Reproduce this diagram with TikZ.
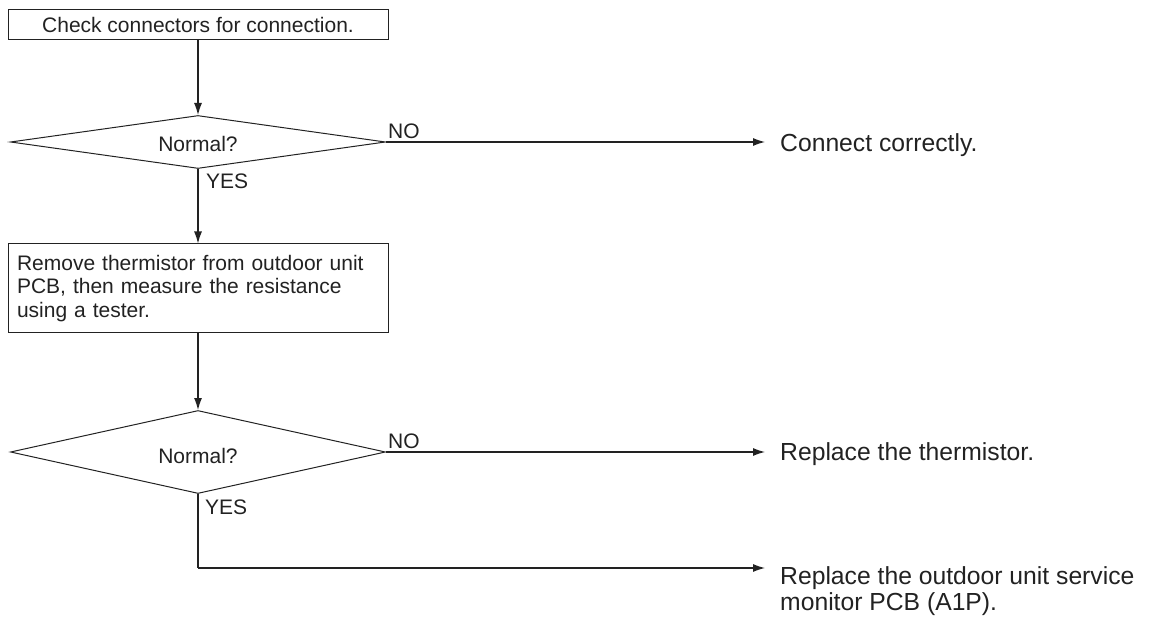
\documentclass[tikz,border=0pt]{standalone}
\usepackage{fontspec}
\setmainfont{Liberation Sans}
\usetikzlibrary{shapes.geometric,arrows.meta}
\definecolor{ink}{HTML}{222222}
\begin{document}
\begin{tikzpicture}[x=1pt,y=-1pt,
  every node/.style={text=ink},
  small/.style={font=\fontsize{21}{23.5}\selectfont},
  big/.style={font=\fontsize{24.7}{26}\selectfont},
  boxnode/.style={draw=ink,line width=1pt,rectangle,inner sep=0pt,small},
  decision/.style={draw=ink,line width=1pt,diamond,aspect=7,inner sep=0pt,
    minimum width=375pt,minimum height=53pt,small,text depth=0pt},
  lab/.style={small,inner sep=0pt,anchor=base west},
  outtext/.style={big,inner sep=0pt,anchor=base west,align=left},
  conn/.style={draw=ink,line width=1.1pt},
  arr/.style={conn,-{Latex[length=12pt,width=8pt]}}]
\useasboundingbox (0,0) rectangle (1156,617);

\node[boxnode,minimum width=380pt,minimum height=30pt] (check) at (198,25) {Check connectors for connection.};
\node[decision,text height=19.4pt] (d1) at (198,142) {Normal?};
\node[boxnode,minimum width=380pt,minimum height=89pt,text width=362pt,inner xsep=9pt,align=left] (remove) at (198,288.5)
  {Remove thermistor from outdoor unit\\PCB, then measure the resistance\\using a tester.};
\node[decision,minimum height=83pt,text height=22.6pt] (d2) at (198,452) {Normal?};

\node[outtext] (connect) at (780,151.7) {Connect correctly.};
\node[outtext] (replth) at (780,460) {Replace the thermistor.};
\node[outtext] (replpcb) at (780,610) {Replace the outdoor unit service\\monitor PCB (A1P).};

\coordinate (a1) at (765,142);
\coordinate (a2) at (765,452);
\coordinate (corner) at (198,568);
\coordinate (a3) at (765,568);

\draw[arr] (check.south) -- (d1.north);
\draw[arr] (d1.east) -- (a1);
\draw[arr] (d1.south) -- (remove.north);
\draw[arr] (remove.south) -- (d2.north);
\draw[arr] (d2.east) -- (a2);
\draw[conn] (d2.south) -- (corner);
\draw[arr] (corner) -- (a3);

\node[lab] (no1) at (388,138.3) {NO};
\node[lab] (yes1) at (206,189) {YES};
\node[lab] (no2) at (388,448) {NO};
\node[lab] (yes2) at (205,514) {YES};
\end{tikzpicture}
\end{document}
